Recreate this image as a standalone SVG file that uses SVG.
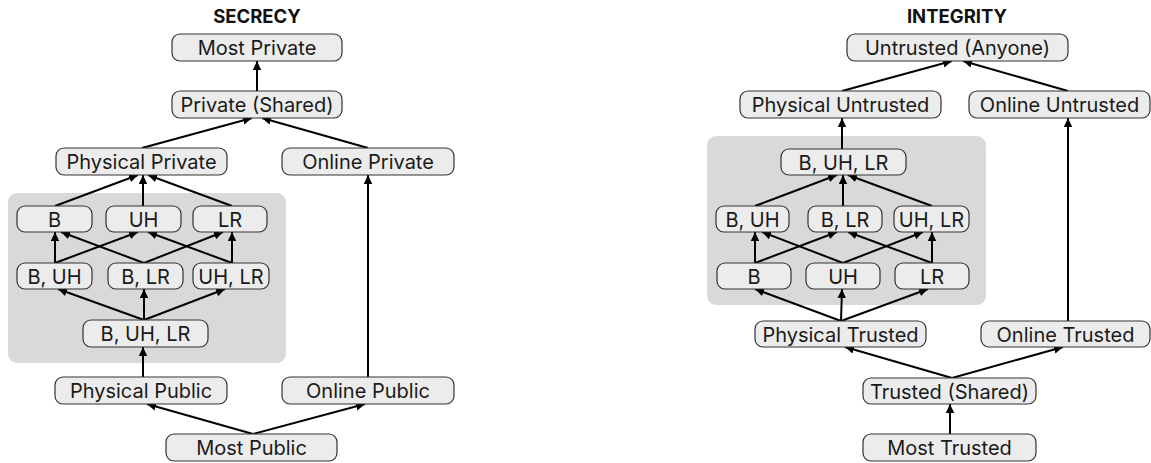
<svg xmlns="http://www.w3.org/2000/svg" width="1151" height="463" viewBox="0 0 1151 463">
<defs>
<marker id="ah" markerWidth="10" markerHeight="10" refX="9" refY="5" orient="auto" markerUnits="userSpaceOnUse">
<path d="M0,0.8 L9,5 L0,9.2 Z" fill="#000"/>
</marker>
<style>
.n rect{fill:#ececec;stroke:#333;stroke-width:1.2}
.n text{font-family:Inter,"Liberation Sans",sans-serif;font-size:20px;fill:#1a1a1a;text-anchor:middle;dominant-baseline:central}
.t{font-family:Inter,"Liberation Sans",sans-serif;font-size:18.5px;font-weight:bold;fill:#111;text-anchor:middle}
.g{fill:#d9d9d9}
#edges line{stroke:#000;stroke-width:2;marker-end:url(#ah)}
</style>
</defs>
<rect width="1151" height="463" fill="#fff"/>
<text class="t" x="257" y="23">SECRECY</text>
<text class="t" x="957" y="23">INTEGRITY</text>
<rect class="g" x="8" y="193" width="278" height="170" rx="9"/>
<rect class="g" x="707" y="136" width="279" height="169" rx="9"/>
<g id="edges">
<line x1="257" y1="91" x2="257" y2="61"/>
<line x1="142" y1="148" x2="252" y2="118"/>
<line x1="368" y1="148" x2="262" y2="118"/>
<line x1="55" y1="206" x2="138" y2="175"/>
<line x1="143" y1="206" x2="143" y2="175"/>
<line x1="232" y1="206" x2="148" y2="175"/>
<line x1="55" y1="263" x2="55" y2="232"/>
<line x1="55" y1="263" x2="138" y2="232"/>
<line x1="144" y1="263" x2="61" y2="232"/>
<line x1="144" y1="263" x2="223" y2="232"/>
<line x1="232" y1="263" x2="148" y2="232"/>
<line x1="232" y1="263" x2="232" y2="232"/>
<line x1="144" y1="320" x2="58" y2="289"/>
<line x1="144" y1="320" x2="144" y2="289"/>
<line x1="144" y1="320" x2="225" y2="289"/>
<line x1="143" y1="377" x2="143" y2="347"/>
<line x1="368" y1="377" x2="368" y2="175"/>
<line x1="253" y1="434" x2="147" y2="404"/>
<line x1="253" y1="434" x2="365" y2="404"/>
<line x1="842" y1="91" x2="952" y2="61"/>
<line x1="1068" y1="91" x2="963" y2="61"/>
<line x1="842" y1="149" x2="842" y2="118"/>
<line x1="1068" y1="321" x2="1068" y2="118"/>
<line x1="755" y1="206" x2="837" y2="175"/>
<line x1="843" y1="206" x2="843" y2="175"/>
<line x1="932" y1="206" x2="848" y2="175"/>
<line x1="755" y1="263" x2="755" y2="232"/>
<line x1="755" y1="263" x2="837" y2="232"/>
<line x1="843" y1="263" x2="762" y2="232"/>
<line x1="843" y1="263" x2="923" y2="232"/>
<line x1="932" y1="263" x2="848" y2="232"/>
<line x1="932" y1="263" x2="932" y2="232"/>
<line x1="841" y1="321" x2="755" y2="289"/>
<line x1="841" y1="321" x2="842" y2="289"/>
<line x1="841" y1="321" x2="928" y2="289"/>
<line x1="952" y1="378" x2="845" y2="347"/>
<line x1="952" y1="378" x2="1063" y2="347"/>
<line x1="950" y1="434" x2="950" y2="404"/>
</g>
<g id="sMostPrivate" class="n"><rect x="172" y="34" width="170" height="27" rx="8"/><text x="257" y="48">Most Private</text></g>
<g id="sPrivateShared" class="n"><rect x="172" y="91" width="170" height="27" rx="8"/><text x="257" y="105">Private (Shared)</text></g>
<g id="sPhysicalPrivate" class="n"><rect x="56" y="148" width="171" height="27" rx="8"/><text x="141.5" y="162">Physical Private</text></g>
<g id="sOnlinePrivate" class="n"><rect x="282" y="148" width="172" height="27" rx="8"/><text x="368" y="162">Online Private</text></g>
<g id="sB" class="n"><rect x="17" y="206" width="75" height="26" rx="8"/><text x="54.5" y="219.5">B</text></g>
<g id="sUH" class="n"><rect x="106" y="206" width="75" height="26" rx="8"/><text x="143.5" y="219.5">UH</text></g>
<g id="sLR" class="n"><rect x="193" y="206" width="74" height="26" rx="8"/><text x="230" y="219.5">LR</text></g>
<g id="sBUH" class="n"><rect x="17" y="263" width="75" height="26" rx="8"/><text x="54.5" y="276.5">B, UH</text></g>
<g id="sBLR" class="n"><rect x="108" y="263" width="75" height="26" rx="8"/><text x="145.5" y="276.5">B, LR</text></g>
<g id="sUHLR" class="n"><rect x="193" y="263" width="76" height="26" rx="8"/><text x="231" y="276.5">UH, LR</text></g>
<g id="sBUHLR" class="n"><rect x="83" y="320" width="125" height="27" rx="8"/><text x="145.5" y="334">B, UH, LR</text></g>
<g id="sPhysicalPublic" class="n"><rect x="55" y="377" width="172" height="27" rx="8"/><text x="141" y="391">Physical Public</text></g>
<g id="sOnlinePublic" class="n"><rect x="282" y="377" width="172" height="27" rx="8"/><text x="368" y="391">Online Public</text></g>
<g id="sMostPublic" class="n"><rect x="166" y="434" width="171" height="27" rx="8"/><text x="251.5" y="448">Most Public</text></g>
<g id="iUntrusted" class="n"><rect x="847" y="34" width="221" height="27" rx="8"/><text x="957.5" y="48">Untrusted (Anyone)</text></g>
<g id="iPhysicalUntrusted" class="n"><rect x="740" y="91" width="201" height="27" rx="8"/><text x="840.5" y="105">Physical Untrusted</text></g>
<g id="iOnlineUntrusted" class="n"><rect x="969" y="91" width="181" height="27" rx="8"/><text x="1059.5" y="105">Online Untrusted</text></g>
<g id="iBUHLR" class="n"><rect x="781" y="149" width="125" height="26" rx="8"/><text x="843.5" y="162.5">B, UH, LR</text></g>
<g id="iBUH" class="n"><rect x="716" y="206" width="73" height="26" rx="8"/><text x="752.5" y="219.5">B, UH</text></g>
<g id="iBLR" class="n"><rect x="808" y="206" width="74" height="26" rx="8"/><text x="845" y="219.5">B, LR</text></g>
<g id="iUHLR" class="n"><rect x="894" y="206" width="75" height="26" rx="8"/><text x="931.5" y="219.5">UH, LR</text></g>
<g id="iB" class="n"><rect x="717" y="263" width="74" height="26" rx="8"/><text x="754" y="276.5">B</text></g>
<g id="iUH" class="n"><rect x="806" y="263" width="74" height="26" rx="8"/><text x="843" y="276.5">UH</text></g>
<g id="iLR" class="n"><rect x="895" y="263" width="74" height="26" rx="8"/><text x="932" y="276.5">LR</text></g>
<g id="iPhysicalTrusted" class="n"><rect x="755" y="321" width="171" height="26" rx="8"/><text x="840.5" y="334.5">Physical Trusted</text></g>
<g id="iOnlineTrusted" class="n"><rect x="981" y="321" width="169" height="26" rx="8"/><text x="1065.5" y="334.5">Online Trusted</text></g>
<g id="iTrustedShared" class="n"><rect x="863" y="378" width="173" height="26" rx="8"/><text x="949.5" y="391.5">Trusted (Shared)</text></g>
<g id="iMostTrusted" class="n"><rect x="863" y="434" width="173" height="27" rx="8"/><text x="949.5" y="448">Most Trusted</text></g>
</svg>
